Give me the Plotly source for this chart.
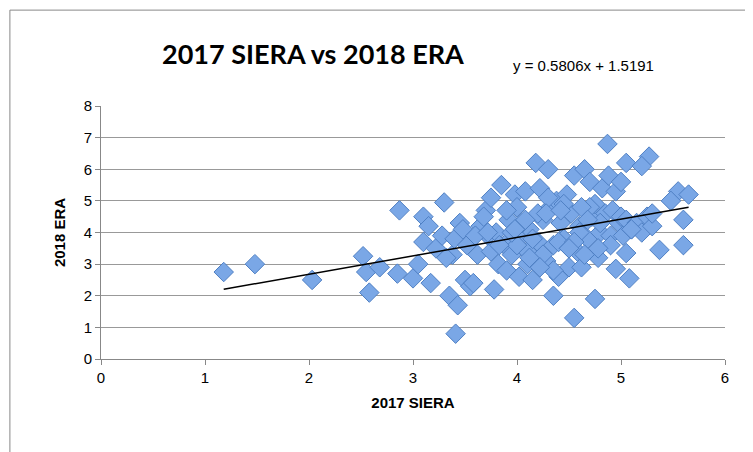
import plotly.graph_objects as go

siera_2017 = [1.18,1.48,2.03,2.52,2.58,2.55,2.68,2.87,2.85,3.0,3.1,3.1,3.17,3.3,3.35,3.41,3.43,3.38,3.45,3.5,3.55,
 3.05,3.15,3.22,3.28,3.32,3.4,3.48,3.52,3.58,3.62,3.65,3.7,3.72,3.75,3.78,3.8,3.82,3.85,3.88,3.9,3.92,3.95,
 3.98,4.0,4.02,4.05,4.08,4.1,4.12,4.15,4.18,4.2,4.22,4.25,4.28,4.3,4.32,4.35,4.38,4.4,4.42,4.45,4.48,4.5,
 4.52,4.55,4.58,4.6,4.62,4.65,4.68,4.7,4.72,4.75,4.78,4.8,4.82,4.85,4.88,4.9,4.92,4.95,4.98,5.0,5.02,5.05,
 5.1,5.15,5.2,5.25,5.3,4.87,5.27,5.05,5.2,5.55,5.48,5.65,5.6,5.6,5.37,5.05,5.08,4.95,4.75,4.55,4.35,
 3.6,3.68,3.75,3.9,4.0,4.05,4.1,4.2,4.25,4.3,4.4,4.45,4.5,4.6,4.65,4.7,4.8,4.9,5.0,5.1,5.3,4.15,4.35,
 3.95,4.08,4.22,4.55,4.62,4.78,3.83,3.72,4.28,4.12,4.42,3.98,4.5,4.68]
era_2018 = [2.75,3.0,2.5,3.25,2.1,2.75,2.9,4.7,2.7,2.55,4.5,3.7,2.4,4.95,2.0,0.8,1.7,3.3,4.3,2.5,2.3,
 3.0,4.2,3.5,3.9,3.2,3.8,4.1,3.6,2.4,3.3,4.2,4.7,3.9,5.1,2.2,4.0,3.0,5.5,3.6,2.8,4.4,3.3,
 5.2,4.8,2.6,3.9,5.3,3.4,4.1,2.5,6.2,3.7,5.4,4.4,3.1,6.0,4.8,3.6,5.0,2.6,4.3,3.8,5.2,2.9,
 4.6,5.8,3.4,4.2,2.9,6.0,3.8,5.6,4.5,4.9,3.2,4.0,5.4,4.6,5.8,3.9,4.7,5.3,4.3,4.5,3.9,4.4,
 4.1,4.3,4.0,4.5,4.2,6.8,6.4,6.2,6.1,5.3,5.0,5.2,4.4,3.6,3.45,3.35,2.55,2.85,1.9,1.3,2.0,
 3.9,4.5,3.4,4.7,3.6,4.3,3.0,4.6,3.3,5.1,3.7,4.9,3.5,4.0,3.3,4.8,4.3,3.6,5.6,4.1,4.6,3.8,2.8,
 4.0,4.4,2.9,3.7,4.8,3.5,3.6,4.0,4.6,3.2,4.7,4.1,3.5,4.4]
trend_x = [min(siera_2017), max(siera_2017)]
slope, intercept = 0.5806, 1.5191
trend_y = [slope*x + intercept for x in trend_x]

fig = go.Figure()
fig.add_trace(go.Scatter(x=siera_2017, y=era_2018, mode="markers",
    marker=dict(symbol="diamond", size=15, color="#7aa7e6", line=dict(color="#4f80c4", width=1))))
fig.add_trace(go.Scatter(x=trend_x, y=trend_y, mode="lines", line=dict(color="black", width=1.5)))
fig.update_layout(
    width=753, height=452, showlegend=False, plot_bgcolor="white", paper_bgcolor="white",
    margin=dict(l=93, r=36, t=98, b=101, autoexpand=False),
    font=dict(family="Liberation Sans, Arial", color="black"),
    title=dict(text="<b>2017 SIERA vs 2018 ERA</b>", x=0.405, xanchor="center", y=0.896, yanchor="middle",
               font=dict(size=27, family="Lato, Liberation Sans"), automargin=False),
    xaxis=dict(range=[0,6], dtick=1, showgrid=False, showline=True, linecolor="#888", ticks="outside",
               ticklen=5, tickcolor="#888", zeroline=False, tickfont=dict(size=15), automargin=False,
               title=dict(text="<b>2017 SIERA</b>", font=dict(size=15), standoff=12)),
    yaxis=dict(range=[0,8], dtick=1, showgrid=True, gridcolor="#999", showline=True, linecolor="#888",
               ticks="outside", ticklen=5, tickcolor="#888", zeroline=False, tickfont=dict(size=15), automargin=False,
               title=dict(text="<b>2018 ERA</b>", font=dict(size=15), standoff=14)),
    annotations=[dict(text="y = 0.5806x + 1.5191", x=0.889, y=1.20, xref="paper", yref="paper", showarrow=False,
                      font=dict(size=15))],
    shapes=[dict(type="rect", xref="paper", yref="paper", x0=-0.146, x1=1.053, y0=-0.387, y1=1.379,
                 line=dict(color="#888", width=1))]
)
fig.write_html("out.html")
